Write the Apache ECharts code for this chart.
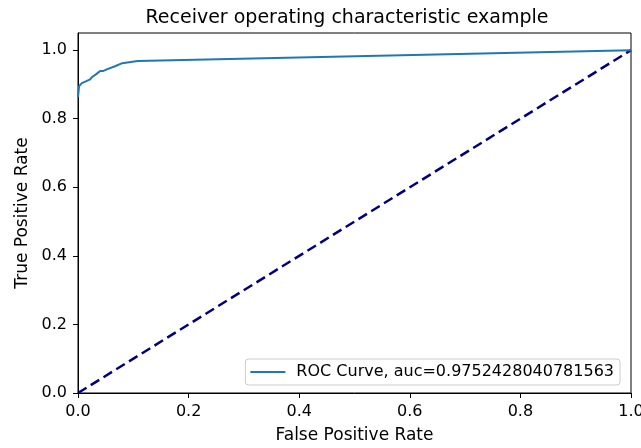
<!DOCTYPE html>
<html>
<head>
<meta charset="utf-8">
<script src="https://cdn.jsdelivr.net/npm/echarts@6/dist/echarts.min.js"></script>
<style>html,body{margin:0;padding:0;background:#fff;}#c{width:641px;height:448px;}</style>
</head>
<body>
<div id="c"></div>
<script>
const fpr = [0, 0.002, 0.007, 0.014, 0.022, 0.025, 0.033, 0.040, 0.045, 0.052, 0.067, 0.080, 0.108, 1.0];
const tpr = [0.863, 0.895, 0.904, 0.909, 0.915, 0.921, 0.930, 0.939, 0.939, 0.944, 0.953, 0.962, 0.968, 1.0];
const diagX = [0, 1];
const diagY = [0, 1];
const tickValues = [0, 0.2, 0.4, 0.6, 0.8, 1.0];
const rocName = 'ROC Curve, auc=0.9752428040781563';

const font = 'DejaVu Sans';
const chart = echarts.init(document.getElementById('c'));
chart.setOption({
  animation: false,
  title: {
    text: 'Receiver operating characteristic example',
    left: 342, top: 4, textAlign: 'center',
    textStyle: {fontFamily: font, fontSize: 19, fontWeight: 'normal', color: '#000'}
  },
  grid: {left: 78, right: 10, top: 33, bottom: 55, outerBoundsMode: 'none', containLabel: false, show: true, borderColor: '#000', borderWidth: 1, backgroundColor: '#fff'},
  legend: {
    data: [rocName], right: 21, bottom: 63,
    icon: 'rect', itemWidth: 35, itemHeight: 2, itemGap: 8,
    padding: [5, 6, 5, 5],
    borderColor: '#ccc', borderWidth: 1, borderRadius: 3, backgroundColor: '#fff',
    textStyle: {fontFamily: font, fontSize: 16, color: '#000', padding: [0, 0, 0, 6]}
  },
  xAxis: {
    type: 'value', min: 0, max: 1,
    name: 'False Positive Rate', nameLocation: 'middle', nameGap: 34,
    nameTextStyle: {fontFamily: font, fontSize: 17, color: '#000'},
    axisLine: {show: true, lineStyle: {color: '#000', width: 1}},
    axisTick: {show: true, customValues: tickValues, length: 5, lineStyle: {color: '#000'}},
    axisLabel: {customValues: tickValues, formatter: v => v.toFixed(1), fontFamily: font, fontSize: 16, color: '#000', margin: 11},
    splitLine: {show: false}
  },
  yAxis: {
    type: 'value', min: 0, max: 1.05,
    name: 'True Positive Rate', nameLocation: 'middle', nameGap: 47,
    nameTextStyle: {fontFamily: font, fontSize: 17, color: '#000'},
    axisLine: {show: true, lineStyle: {color: '#000', width: 1}},
    axisTick: {show: true, customValues: tickValues, length: 5, lineStyle: {color: '#000'}},
    axisLabel: {customValues: tickValues, formatter: v => v.toFixed(1), fontFamily: font, fontSize: 16, color: '#000', margin: 11},
    splitLine: {show: false}
  },
  series: [
    {
      name: rocName, type: 'line', showSymbol: false, symbol: 'none',
      data: fpr.map((x, i) => [x, tpr[i]]),
      lineStyle: {color: '#1f77b4', width: 2}, itemStyle: {color: '#1f77b4'}, z: 3
    },
    {
      name: 'diag', type: 'line', showSymbol: false, symbol: 'none',
      data: diagX.map((x, i) => [x, diagY[i]]),
      lineStyle: {color: '#000080', width: 2.5, type: [10, 5]}, itemStyle: {color: '#000080'}, z: 2
    }
  ]
});
</script>
</body>
</html>
